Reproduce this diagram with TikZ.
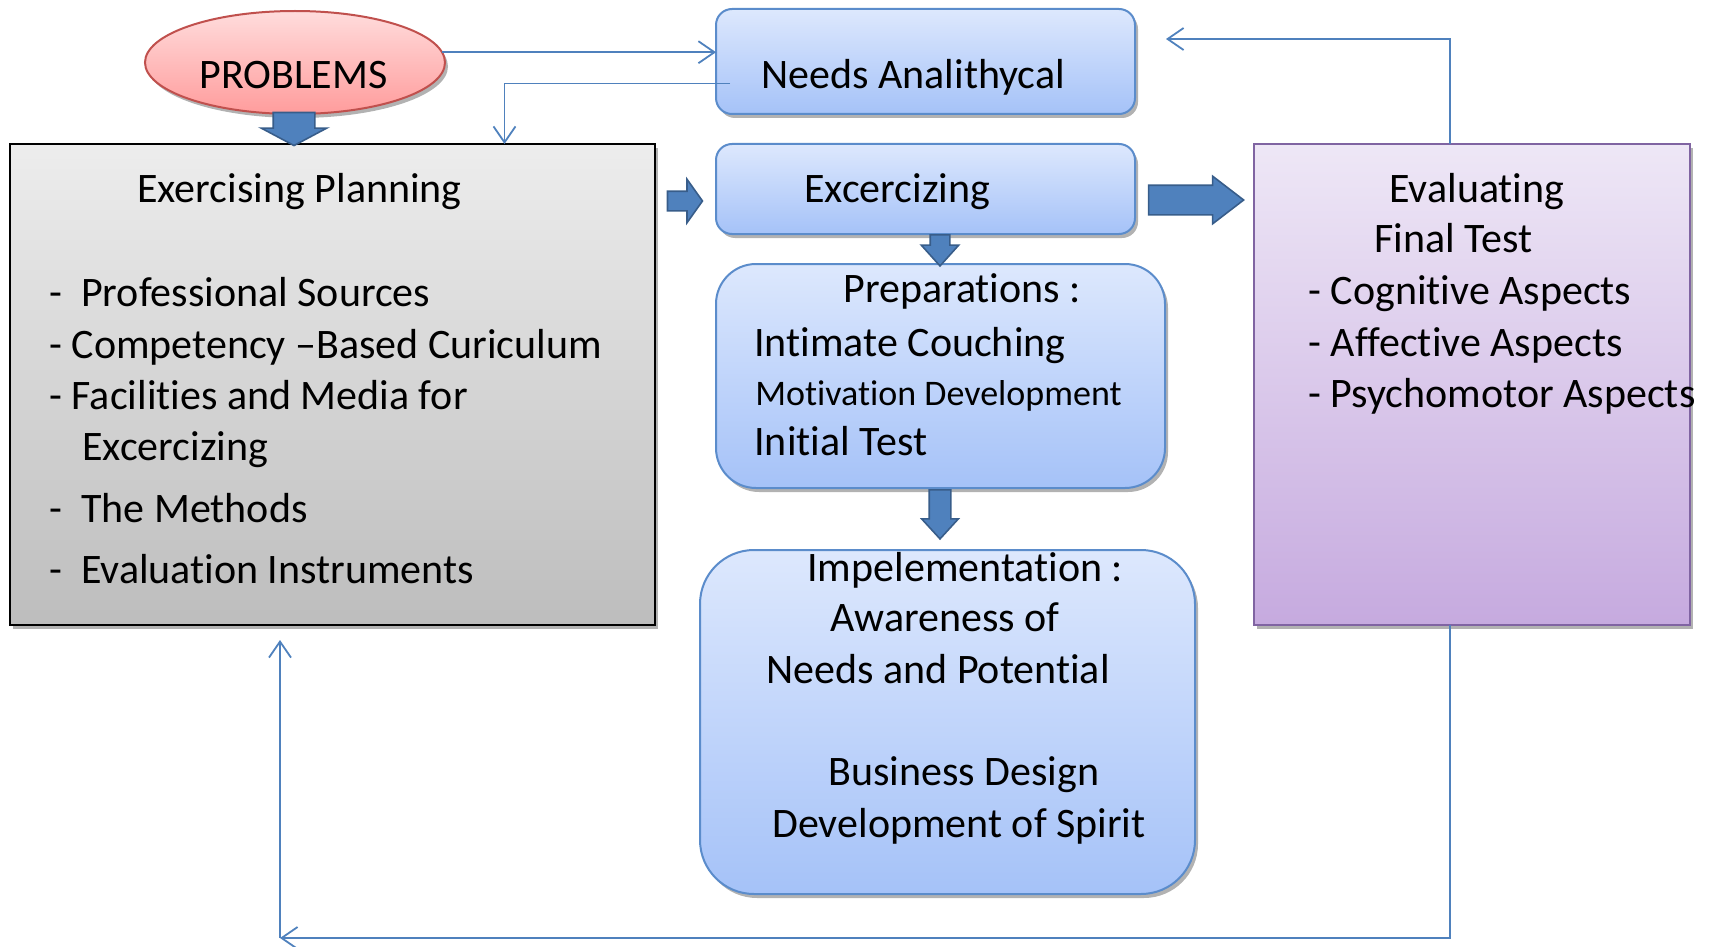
\documentclass[tikz,border=0pt]{standalone}
\usepackage{fontspec}
\setmainfont{Carlito}[Ligatures=NoCommon]
\usetikzlibrary{arrows.meta, shapes.geometric, shapes.arrows, shadows}

\definecolor{lineblue}{HTML}{4F81BD}
\definecolor{arrowedge}{HTML}{385D8A}
\definecolor{bluetop}{HTML}{DDE8FD}
\definecolor{bluebot}{HTML}{A5C2F8}
\definecolor{boxedge}{HTML}{5B8CCB}
\definecolor{graytop}{HTML}{EDEDED}
\definecolor{graybot}{HTML}{BDBDBD}
\definecolor{violettop}{HTML}{EEE7F6}
\definecolor{violetbot}{HTML}{C6AADF}
\definecolor{violetedge}{HTML}{8064A2}
\definecolor{redtop}{HTML}{FFDCDC}
\definecolor{redbot}{HTML}{FF9C9C}
\definecolor{rededge}{HTML}{C0504D}

\tikzset{
 txt/.style={font=\fontsize{21pt}{25pt}\selectfont, inner sep=0pt, anchor=west,
  text height=0.75em, text depth=0.2em},
 smalltxt/.style={txt, font=\fontsize{18pt}{22pt}\selectfont},
 box/.style={inner sep=0pt, outer sep=0pt, line width=1pt,
  drop shadow={shadow xshift=1.5pt, shadow yshift=-2pt, opacity=0.3, fill=black}},
 bluebox/.style={box, draw=boxedge, top color=bluetop, bottom color=bluebot},
 graybox/.style={box, draw=black, top color=graytop, bottom color=graybot},
 violetbox/.style={box, draw=violetedge, top color=violettop, bottom color=violetbot},
 problem/.style={box, ellipse, draw=rededge, top color=redtop, bottom color=redbot},
 link/.style={draw=lineblue, line width=0.9pt, -{Straight Barb[length=8pt,width=11pt]}},
 fatarrow/.style={single arrow, draw=arrowedge, fill=lineblue, line width=0.8pt,
  inner xsep=0pt, minimum width=0pt, outer sep=0pt}
}

\begin{document}
\begin{tikzpicture}[x=0.5pt, y=-0.5pt]
 \useasboundingbox (0,0) rectangle (1713,947);

 % boxes
 \node[problem, minimum width=150pt, minimum height=51.5pt] (prob) at (295,62.5) {};
 \node[graybox, minimum width=322.5pt, minimum height=240.5pt] (plan) at (332.5,384.5) {};
 \node[bluebox, rounded corners=8pt, minimum width=209.5pt, minimum height=52.5pt] (needs) at (925.5,61.5) {};
 \node[bluebox, rounded corners=8pt, minimum width=209.5pt, minimum height=45pt] (exer) at (925.5,189) {};
 \node[bluebox, rounded corners=20pt, minimum width=224.5pt, minimum height=112pt] (prep) at (940.5,376) {};
 \node[bluebox, rounded corners=27pt, minimum width=247.5pt, minimum height=172pt] (impl) at (947.5,722) {};
 \node[violetbox, minimum width=218pt, minimum height=240.5pt] (eval) at (1472,384.5) {};

 % texts
 \node[txt] (probt) at (199,83) {PROBLEMS};
 \node[txt] (needst) at (761,83) {Needs Analithycal};
 \node[txt] (exert) at (804,197) {Excercizing};

 \node[txt] (plan1) at (137,197) {Exercising Planning};
 \node[txt] (plan2) at (49,301) {-~~Professional Sources};
 \node[txt] (plan3) at (49,353) {- Competency –Based Curiculum};
 \node[txt] (plan4) at (49,404) {- Facilities and Media for};
 \node[txt] (plan5) at (82,455) {Excercizing};
 \node[txt] (plan6) at (49,517) {-~~The Methods};
 \node[txt] (plan7) at (49,578) {-~~Evaluation Instruments};

 \node[txt] (prep1) at (843,297) {Preparations :};
 \node[txt] (prep2) at (754,351) {Intimate Couching};
 \node[smalltxt] (prep3) at (755,400) {Motivation Development};
 \node[txt] (prep4) at (754,450) {Initial Test};

 \node[txt] (impl1) at (807,576) {Impelementation :};
 \node[txt] (impl2) at (830,626) {Awareness of};
 \node[txt] (impl3) at (766,678) {Needs and Potential};
 \node[txt] (impl4) at (828,780) {Business Design};
 \node[txt] (impl5) at (772,832) {Development of Spirit};

 \node[txt] (eval1) at (1389,197) {Evaluating};
 \node[txt] (eval2) at (1374,247) {Final Test};
 \node[txt] (eval3) at (1308,299) {- Cognitive Aspects};
 \node[txt] (eval4) at (1308,351) {- Affective Aspects};
 \node[txt] (eval5) at (1308,402) {- Psychomotor Aspects};

 % fat arrows
 \node[fatarrow, rotate=-90, minimum height=16.5pt, inner ysep=10pt,
  single arrow head extend=6pt, single arrow tip angle=124] (a1) at (294,123.5) {};
 \node[fatarrow, minimum height=17.5pt, inner ysep=4.5pt,
  single arrow head extend=6pt, single arrow tip angle=109] (a2) at (681.5,201) {};
 \node[fatarrow, minimum height=47.5pt, inner ysep=7pt,
  single arrow head extend=4.5pt, single arrow tip angle=75] (a3) at (1186.5,200) {};
 \node[fatarrow, rotate=-90, minimum height=15.5pt, inner ysep=4.5pt,
  single arrow head extend=4.5pt, single arrow tip angle=84] (a4) at (940,245) {};
 \node[fatarrow, rotate=-90, minimum height=24.5pt, inner ysep=5pt,
  single arrow head extend=3.75pt, single arrow tip angle=85] (a5) at (940,508.5) {};

 % thin links
 \draw[link] (prob.4) -- (prob.4 -| needs.west);
 \draw[link] ([shift={(7pt,-11pt)}]needs.west) -| ([xshift=86pt]plan.north);
 \draw[link] ([xshift=-11pt]eval.north) |- ([shift={(15.5pt,11.25pt)}]needs.east);
 \coordinate (corner) at (280,938);
 \draw[link] ([xshift=-11pt]eval.south) |- (corner);
 \draw[link] (corner) -- ([yshift=-7.5pt]plan.south -| corner);
\end{tikzpicture}
\end{document}
